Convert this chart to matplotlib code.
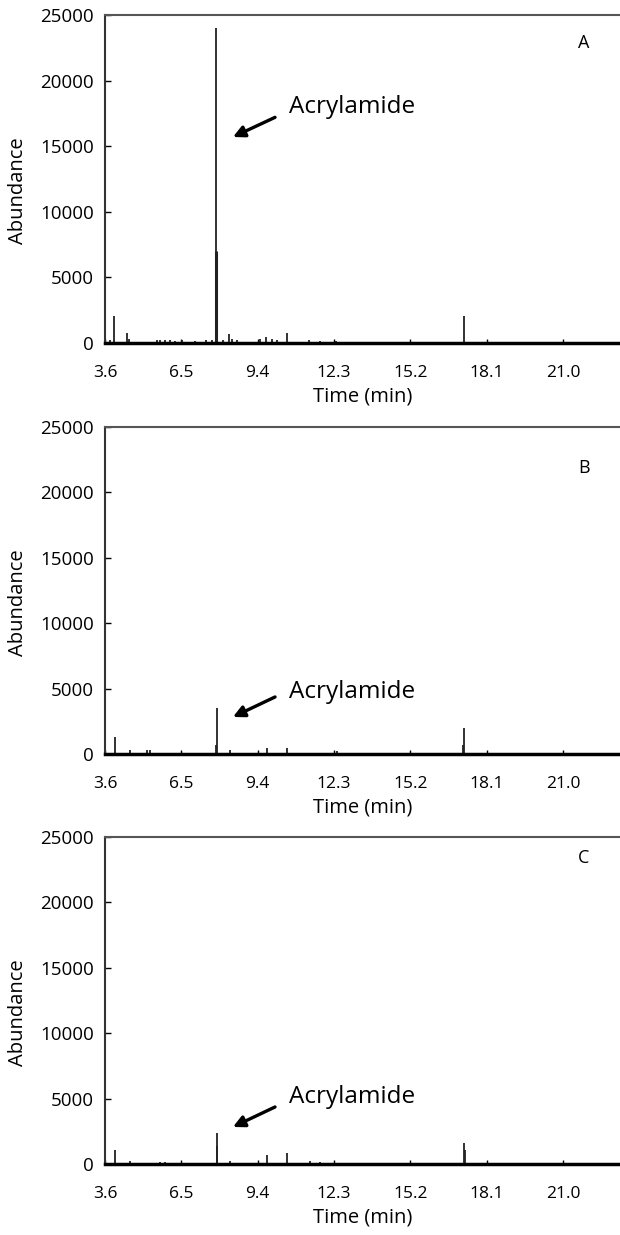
import matplotlib
matplotlib.use('Agg')
import matplotlib.pyplot as plt

plt.rcParams['font.family'] = ['Open Sans', 'DejaVu Sans']

# peak retention times (min) and abundances
times_a = [3.79, 3.94, 4.45, 4.52, 5.56, 5.69, 5.88, 6.07, 6.26, 6.51, 7.02, 7.44, 7.68,
           7.82, 7.82, 7.87, 8.07, 8.31, 8.41, 8.60, 9.49, 9.72, 9.94, 10.13, 10.52,
           11.35, 11.77, 12.38, 17.24]
heights_a = [230, 2060, 740, 300, 200, 220, 200, 200, 180, 200, 150, 200, 250,
             24000, 7000, 1700, 250, 720, 300, 250, 300, 450, 300, 250, 740,
             200, 150, 150, 2080]

times_b = [3.98, 4.55, 5.18, 5.31, 7.80, 7.84, 8.35, 9.74, 10.53, 12.41, 17.20, 17.24]
heights_b = [1330, 300, 300, 300, 700, 3500, 300, 430, 430, 250, 700, 1960]

times_c = [3.98, 4.55, 5.69, 5.88, 7.84, 7.86, 8.35, 9.77, 10.53, 11.39, 11.77, 17.24, 17.27]
heights_c = [1070, 200, 150, 150, 2400, 1380, 200, 690, 870, 200, 150, 1630, 1070]

xticks = [3.6, 6.5, 9.4, 12.3, 15.2, 18.1, 21.0]
yticks = [0, 5000, 10000, 15000, 20000, 25000]
panel_letters = ['A', 'B', 'C']

W, H = 620, 1235
fig = plt.figure(figsize=(W / 100, H / 100), dpi=100)

# panel boxes in pixels: (top, bottom)
boxes = [(15, 343), (427, 754), (837, 1164)]
left_px = 105
x_max = 3.6 + (W - left_px) / 26.32

# annotation positions per panel: arrow head y, arrow tail y, text y (data units)
annots = [(15700, 17200, 18000), (2830, 4360, 4740), (2830, 4360, 5120)]
letter_y = [22900, 21900, 23400]

data = [(times_a, heights_a), (times_b, heights_b), (times_c, heights_c)]

for i, (top, bot) in enumerate(boxes):
    ax = fig.add_axes([left_px / W, 1 - bot / H, (W - left_px) / W, (bot - top) / H])
    t, h = data[i]
    lw = [2.2 if (i == 0 and hh == 7000) else 1.3 for hh in h]
    ax.vlines(t, 0, h, colors='#222222', linewidth=lw)

    ax.set_xlim(3.6, x_max)
    ax.set_ylim(0, 25000)
    ax.set_xticks(xticks)
    ax.set_xticklabels([f'{v:.1f}' for v in xticks])
    ax.set_yticks(yticks)
    ax.tick_params(axis='x', direction='in', length=3, width=1, pad=16, labelsize=12.5)
    ax.tick_params(axis='y', direction='in', length=4, width=1, pad=8, labelsize=13.5)
    ax.spines['right'].set_visible(False)
    ax.spines['top'].set_color('#555555')
    ax.spines['top'].set_linewidth(1.5)
    ax.spines['left'].set_color('#333333')
    ax.spines['left'].set_linewidth(1.5)
    ax.spines['bottom'].set_color('black')
    ax.spines['bottom'].set_linewidth(2.5)
    ax.set_xlabel('Time (min)', fontsize=14.5, labelpad=4)

    fig.text(18 / W, 1 - ((top + bot) / 2 + 12) / H, 'Abundance', rotation=90,
             ha='center', va='center', fontsize=14.5)

    head_y, tail_y, text_y = annots[i]
    ax.annotate('', xy=(8.46, head_y), xytext=(10.06, tail_y),
                arrowprops=dict(arrowstyle='-|>', color='black', lw=2.4,
                                mutation_scale=17, shrinkA=0, shrinkB=0))
    ax.text(10.59, text_y, 'Acrylamide', fontsize=17.5, ha='left', va='center')
    ax.text(21.8, letter_y[i], panel_letters[i], fontsize=13, ha='center', va='center')

fig.savefig('out.png', dpi=100)
